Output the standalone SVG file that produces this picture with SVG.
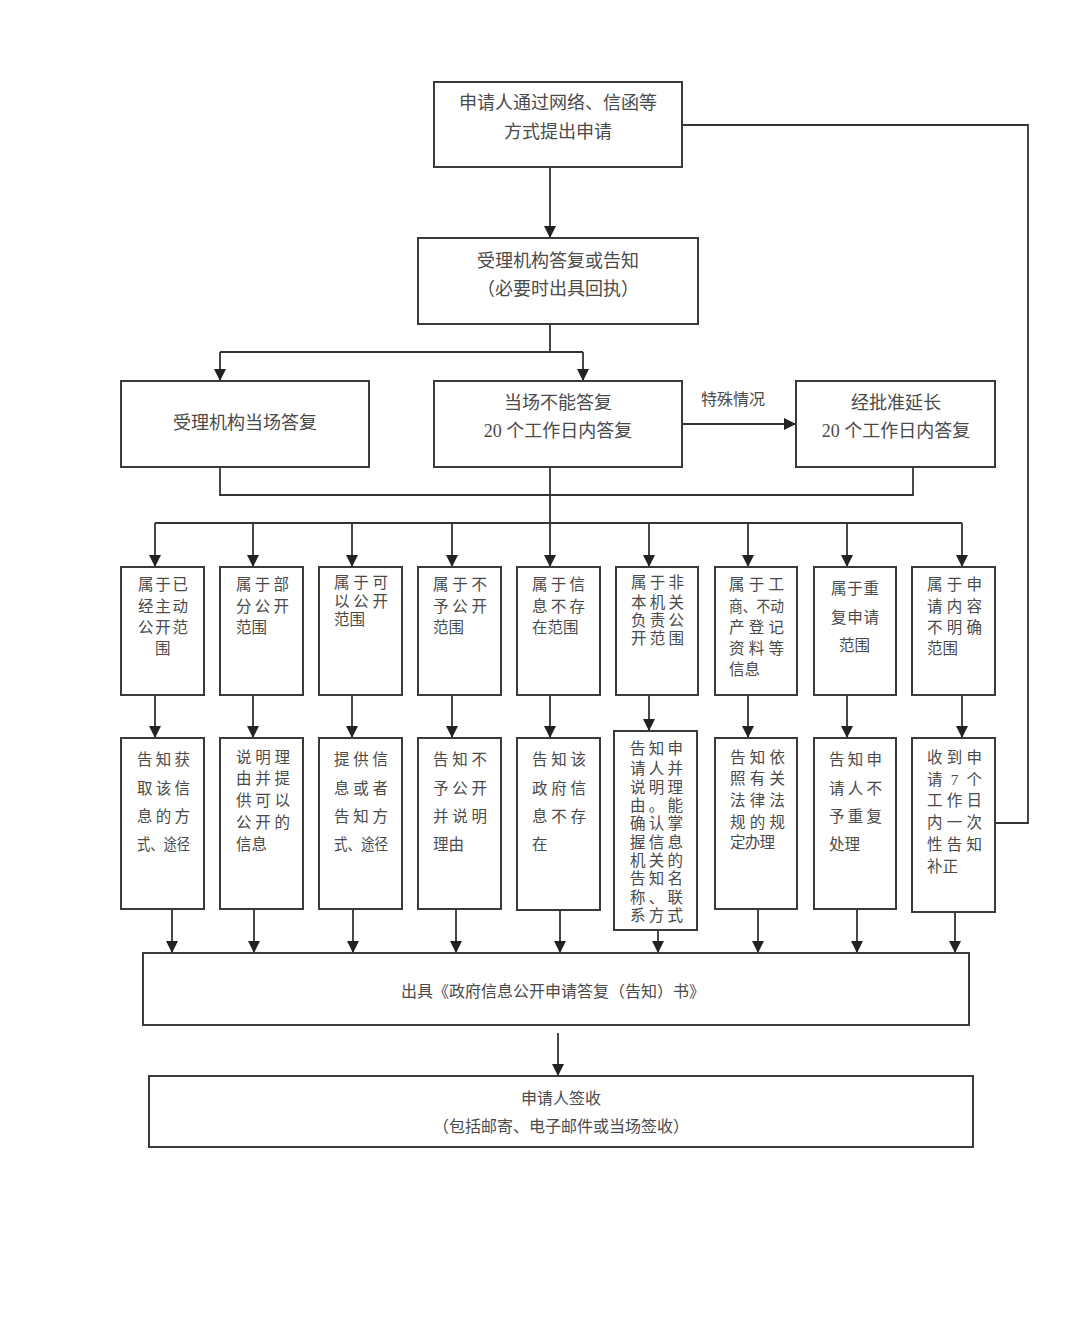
<svg xmlns="http://www.w3.org/2000/svg" width="1080" height="1317" viewBox="0 0 1080 1317">
<defs>
<marker id="ah" markerUnits="userSpaceOnUse" markerWidth="12" markerHeight="12" viewBox="0 0 12 12" refX="12" refY="6" orient="auto">
<path d="M0,0 L12,6 L0,12 Z" fill="#222"/>
</marker>
<style>
.box{fill:#fff;stroke:#3a3a3a;stroke-width:2}
.ln{fill:none;stroke:#333;stroke-width:1.8}
.ar{fill:none;stroke:#333;stroke-width:1.8;marker-end:url(#ah)}
text{font-family:"Liberation Serif","Noto Sans CJK SC",serif;fill:#4a4a4a;dominant-baseline:central}
.t18{font-size:18px;text-anchor:middle}
.t16{font-size:16px;text-anchor:middle}
.c{font-size:15.5px}
</style>
</defs>
<rect width="1080" height="1317" fill="#fff"/>

<g id="connectors">
<path class="ar" d="M550,167 V238"/>
<path class="ln" d="M550,324 V352 M220,352 H583"/>
<path class="ar" d="M220,352 V381"/>
<path class="ar" d="M583,352 V381"/>
<path class="ar" d="M682,424 H796"/>
<path class="ln" d="M220,467 V495 H913 V467"/>
<path class="ln" d="M550,467 V523 M155,523 H962"/>
<path class="ar" d="M155,523 V567"/>
<path class="ar" d="M253,523 V567"/>
<path class="ar" d="M352,523 V567"/>
<path class="ar" d="M452,523 V567"/>
<path class="ar" d="M550,523 V567"/>
<path class="ar" d="M649,523 V567"/>
<path class="ar" d="M748,523 V567"/>
<path class="ar" d="M847,523 V567"/>
<path class="ar" d="M962,523 V567"/>
<path class="ar" d="M155,695 V738"/>
<path class="ar" d="M253,695 V738"/>
<path class="ar" d="M352,695 V738"/>
<path class="ar" d="M452,695 V738"/>
<path class="ar" d="M550,695 V738"/>
<path class="ar" d="M649,695 V731"/>
<path class="ar" d="M748,695 V738"/>
<path class="ar" d="M847,695 V738"/>
<path class="ar" d="M962,695 V738"/>
<path class="ar" d="M172,909 V953"/>
<path class="ar" d="M254,909 V953"/>
<path class="ar" d="M353,909 V953"/>
<path class="ar" d="M456,909 V953"/>
<path class="ar" d="M560,910 V953"/>
<path class="ar" d="M658,930 V953"/>
<path class="ar" d="M758,909 V953"/>
<path class="ar" d="M857,909 V953"/>
<path class="ar" d="M955,912 V953"/>
<path class="ar" d="M558,1033 V1076"/>
<path class="ln" d="M682,125 H1028 V823 H995"/>
<text x="733" y="399" class="t16">特殊情况</text>
</g>

<g id="n_apply">
<rect class="box" x="434" y="82" width="248" height="85"/>
<text x="558" y="103" class="t18">申请人通过网络、信函等</text>
<text x="558" y="132" class="t18">方式提出申请</text>
</g>
<g id="n_accept">
<rect class="box" x="418" y="238" width="280" height="86"/>
<text x="558" y="261" class="t18">受理机构答复或告知</text>
<text x="558" y="289" class="t18">（必要时出具回执）</text>
</g>
<g id="n_onsite">
<rect class="box" x="121" y="381" width="248" height="86"/>
<text x="245" y="423" class="t18">受理机构当场答复</text>
</g>
<g id="n_20days">
<rect class="box" x="434" y="381" width="248" height="86"/>
<text x="558" y="403" class="t18">当场不能答复</text>
<text x="558" y="431" class="t18">20 个工作日内答复</text>
</g>
<g id="n_extend">
<rect class="box" x="796" y="381" width="199" height="86"/>
<text x="896" y="403" class="t18">经批准延长</text>
<text x="896" y="431" class="t18">20 个工作日内答复</text>
</g>

<g id="n_a1">
<rect class="box" x="121" y="567" width="83" height="128"/>
<text class="c" x="138" y="584" textLength="50" lengthAdjust="spacing">属于已</text>
<text class="c" x="138" y="606" textLength="50" lengthAdjust="spacing">经主动</text>
<text class="c" x="138" y="627" textLength="50" lengthAdjust="spacing">公开范</text>
<text class="c" x="155" y="648">围</text>
</g>
<g id="n_a2">
<rect class="box" x="220" y="567" width="83" height="128"/>
<text class="c" x="236" y="584" textLength="53" lengthAdjust="spacing">属于部</text>
<text class="c" x="236" y="606" textLength="53" lengthAdjust="spacing">分公开</text>
<text class="c" x="236" y="627">范围</text>
</g>
<g id="n_a3">
<rect class="box" x="319" y="567" width="83" height="128"/>
<text class="c" x="334" y="582" textLength="54" lengthAdjust="spacing">属于可</text>
<text class="c" x="334" y="601" textLength="54" lengthAdjust="spacing">以公开</text>
<text class="c" x="334" y="619">范围</text>
</g>
<g id="n_a4">
<rect class="box" x="418" y="567" width="83" height="128"/>
<text class="c" x="433" y="584" textLength="54" lengthAdjust="spacing">属于不</text>
<text class="c" x="433" y="606" textLength="54" lengthAdjust="spacing">予公开</text>
<text class="c" x="433" y="627">范围</text>
</g>
<g id="n_a5">
<rect class="box" x="517" y="567" width="83" height="128"/>
<text class="c" x="532" y="584" textLength="53" lengthAdjust="spacing">属于信</text>
<text class="c" x="532" y="606" textLength="53" lengthAdjust="spacing">息不存</text>
<text class="c" x="532" y="627">在范围</text>
</g>
<g id="n_a6">
<rect class="box" x="616" y="567" width="82" height="128"/>
<text class="c" x="631" y="582" textLength="53" lengthAdjust="spacing">属于非</text>
<text class="c" x="631" y="602" textLength="53" lengthAdjust="spacing">本机关</text>
<text class="c" x="631" y="620" textLength="53" lengthAdjust="spacing">负责公</text>
<text class="c" x="631" y="638" textLength="53" lengthAdjust="spacing">开范围</text>
</g>
<g id="n_a7">
<rect class="box" x="715" y="567" width="82" height="128"/>
<text class="c" x="729" y="584" textLength="55" lengthAdjust="spacing">属于工</text>
<text class="c" x="729" y="606" textLength="55" lengthAdjust="spacingAndGlyphs">商、不动</text>
<text class="c" x="729" y="627" textLength="55" lengthAdjust="spacing">产登记</text>
<text class="c" x="729" y="648" textLength="55" lengthAdjust="spacing">资料等</text>
<text class="c" x="729" y="669">信息</text>
</g>
<g id="n_a8">
<rect class="box" x="814" y="567" width="82" height="128"/>
<text class="c" x="831" y="588" textLength="48" lengthAdjust="spacing">属于重</text>
<text class="c" x="831" y="617" textLength="48" lengthAdjust="spacing">复申请</text>
<text class="c" x="839" y="645">范围</text>
</g>
<g id="n_a9">
<rect class="box" x="912" y="567" width="83" height="128"/>
<text class="c" x="927" y="584" textLength="55" lengthAdjust="spacing">属于申</text>
<text class="c" x="927" y="606" textLength="55" lengthAdjust="spacing">请内容</text>
<text class="c" x="927" y="627" textLength="55" lengthAdjust="spacing">不明确</text>
<text class="c" x="927" y="648">范围</text>
</g>

<g id="n_b1">
<rect class="box" x="121" y="738" width="83" height="171"/>
<text class="c" x="137" y="759" textLength="53" lengthAdjust="spacing">告知获</text>
<text class="c" x="137" y="788" textLength="53" lengthAdjust="spacing">取该信</text>
<text class="c" x="137" y="816" textLength="53" lengthAdjust="spacing">息的方</text>
<text class="c" x="137" y="844" textLength="53" lengthAdjust="spacingAndGlyphs">式、途径</text>
</g>
<g id="n_b2">
<rect class="box" x="220" y="738" width="83" height="171"/>
<text class="c" x="236" y="757" textLength="54" lengthAdjust="spacing">说明理</text>
<text class="c" x="236" y="778" textLength="54" lengthAdjust="spacing">由并提</text>
<text class="c" x="236" y="800" textLength="54" lengthAdjust="spacing">供可以</text>
<text class="c" x="236" y="822" textLength="54" lengthAdjust="spacing">公开的</text>
<text class="c" x="236" y="844">信息</text>
</g>
<g id="n_b3">
<rect class="box" x="319" y="738" width="83" height="171"/>
<text class="c" x="334" y="759" textLength="54" lengthAdjust="spacing">提供信</text>
<text class="c" x="334" y="788" textLength="54" lengthAdjust="spacing">息或者</text>
<text class="c" x="334" y="816" textLength="54" lengthAdjust="spacing">告知方</text>
<text class="c" x="334" y="844" textLength="54" lengthAdjust="spacingAndGlyphs">式、途径</text>
</g>
<g id="n_b4">
<rect class="box" x="418" y="738" width="83" height="171"/>
<text class="c" x="433" y="759" textLength="54" lengthAdjust="spacing">告知不</text>
<text class="c" x="433" y="788" textLength="54" lengthAdjust="spacing">予公开</text>
<text class="c" x="433" y="816" textLength="54" lengthAdjust="spacing">并说明</text>
<text class="c" x="433" y="844">理由</text>
</g>
<g id="n_b5">
<rect class="box" x="517" y="738" width="83" height="172"/>
<text class="c" x="532" y="759" textLength="54" lengthAdjust="spacing">告知该</text>
<text class="c" x="532" y="788" textLength="54" lengthAdjust="spacing">政府信</text>
<text class="c" x="532" y="816" textLength="54" lengthAdjust="spacing">息不存</text>
<text class="c" x="532" y="844">在</text>
</g>
<g id="n_b6">
<rect class="box" x="614" y="731" width="83" height="199"/>
<text class="c" x="630" y="748" textLength="53" lengthAdjust="spacing">告知申</text>
<text class="c" x="630" y="768" textLength="53" lengthAdjust="spacing">请人并</text>
<text class="c" x="630" y="787" textLength="53" lengthAdjust="spacing">说明理</text>
<text class="c" x="630" y="805" textLength="53" lengthAdjust="spacing">由。能</text>
<text class="c" x="630" y="823" textLength="53" lengthAdjust="spacing">确认掌</text>
<text class="c" x="630" y="842" textLength="53" lengthAdjust="spacing">握信息</text>
<text class="c" x="630" y="860" textLength="53" lengthAdjust="spacing">机关的</text>
<text class="c" x="630" y="878" textLength="53" lengthAdjust="spacing">告知名</text>
<text class="c" x="630" y="897" textLength="53" lengthAdjust="spacing">称、联</text>
<text class="c" x="630" y="915" textLength="53" lengthAdjust="spacing">系方式</text>
</g>
<g id="n_b7">
<rect class="box" x="715" y="738" width="82" height="171"/>
<text class="c" x="730" y="757" textLength="55" lengthAdjust="spacing">告知依</text>
<text class="c" x="730" y="778" textLength="55" lengthAdjust="spacing">照有关</text>
<text class="c" x="730" y="800" textLength="55" lengthAdjust="spacing">法律法</text>
<text class="c" x="730" y="822" textLength="55" lengthAdjust="spacing">规的规</text>
<text class="c" x="730" y="842" textLength="45" lengthAdjust="spacing">定办理</text>
</g>
<g id="n_b8">
<rect class="box" x="814" y="738" width="82" height="171"/>
<text class="c" x="829" y="759" textLength="53" lengthAdjust="spacing">告知申</text>
<text class="c" x="829" y="788" textLength="53" lengthAdjust="spacing">请人不</text>
<text class="c" x="829" y="816" textLength="53" lengthAdjust="spacing">予重复</text>
<text class="c" x="829" y="844">处理</text>
</g>
<g id="n_b9">
<rect class="box" x="912" y="738" width="83" height="174"/>
<text class="c" x="927" y="757" textLength="55" lengthAdjust="spacing">收到申</text>
<text class="c" x="927" y="779" textLength="55" lengthAdjust="spacing">请 7 个</text>
<text class="c" x="927" y="800" textLength="55" lengthAdjust="spacing">工作日</text>
<text class="c" x="927" y="822" textLength="55" lengthAdjust="spacing">内一次</text>
<text class="c" x="927" y="844" textLength="55" lengthAdjust="spacing">性告知</text>
<text class="c" x="927" y="866">补正</text>
</g>

<g id="n_issue">
<rect class="box" x="143" y="953" width="826" height="72"/>
<text x="553" y="991" class="t16">出具《政府信息公开申请答复（告知）书》</text>
</g>
<g id="n_sign">
<rect class="box" x="149" y="1076" width="824" height="71"/>
<text x="561" y="1098" class="t16">申请人签收</text>
<text x="561" y="1126" class="t16">（包括邮寄、电子邮件或当场签收）</text>
</g>
</svg>
